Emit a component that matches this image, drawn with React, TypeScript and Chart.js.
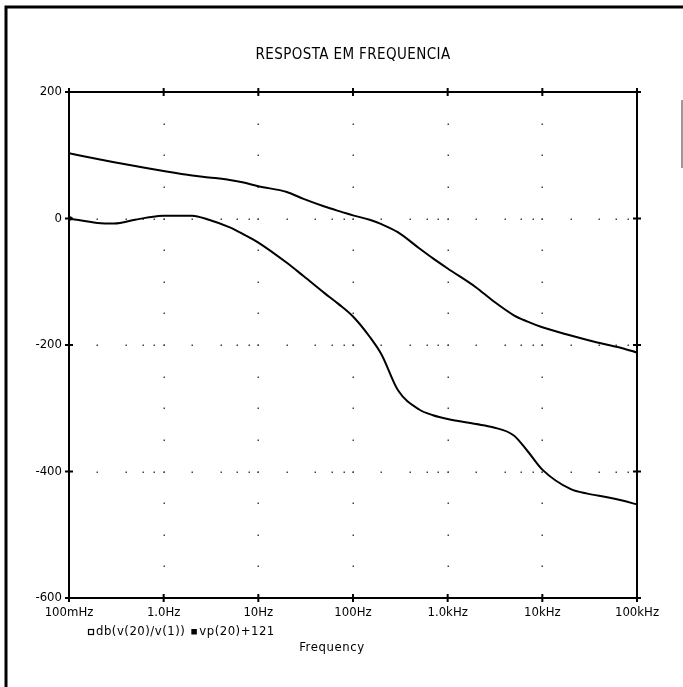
import React, { useEffect, useRef } from "react";
import { Chart, registerables } from "chart.js";

Chart.register(...registerables);

const frequencies = [0.1, 0.2, 0.3, 0.5, 0.7, 1, 2, 3, 5, 7, 10, 20, 30, 50, 70, 100, 150, 200, 300, 500, 700, 1000, 2000, 3000, 5000, 7000, 10000, 20000, 30000, 50000, 70000, 100000];
const gainDb = [0, -7, -8, -2, 2, 4.5, 4.5, -2, -14, -25, -38, -70, -91, -118, -135, -155, -187, -215, -272, -302, -311, -317, -325, -330, -343, -368, -397, -428, -435, -441, -446, -452];
const phasePlus121 = [103, 94, 89, 83, 79, 75, 68, 65, 61, 57, 51, 42, 31, 19, 12, 5, -2, -9, -22, -47, -63, -79, -109, -130, -153, -163, -172, -185, -192, -200, -205, -212];

const seriesLabels = ["db(v(20)/v(1))", "vp(20)+121"];
const xTickValues = [0.1, 1, 10, 100, 1000, 10000, 100000];
const xTickLabels = ["100mHz", "1.0Hz", "10Hz", "100Hz", "1.0kHz", "10kHz", "100kHz"];
const yTickValues = [-600, -400, -200, 0, 200];
const chartTitle = "RESPOSTA EM FREQUENCIA";
const xAxisTitle = "Frequency";

const FONT = '"DejaVu Sans Condensed", "Liberation Sans Narrow", "DejaVu Sans", sans-serif';

const plotterPlugin = {
  id: "plotter",
  beforeDatasetsDraw(chart: any) {
    const { ctx, chartArea: a } = chart;
    const xs = chart.scales.x;
    const ys = chart.scales.y;
    ctx.save();
    ctx.fillStyle = "#444";
    for (let d = 1; d < xTickValues.length - 1; d++) {
      const px = Math.round(xs.getPixelForValue(xTickValues[d]));
      for (let v = -550; v <= 150; v += 50) {
        const py = Math.round(ys.getPixelForValue(v));
        ctx.fillRect(px - 0.5, py - 0.5, 1.5, 1.5);
      }
    }
    for (const gv of [0, -200, -400]) {
      const py = Math.round(ys.getPixelForValue(gv));
      for (let d = 0; d < xTickValues.length - 1; d++) {
        for (const m of [2, 4, 6, 8, 10]) {
          const px = Math.round(xs.getPixelForValue(xTickValues[d] * m));
          if (px >= a.right - 1) continue;
          ctx.fillRect(px - 0.5, py - 0.5, 1.5, 1.5);
        }
      }
    }
    ctx.restore();
  },
  afterDraw(chart: any) {
    const { ctx, chartArea: a } = chart;
    const xs = chart.scales.x;
    const ys = chart.scales.y;
    ctx.save();
    ctx.strokeStyle = "#000";
    ctx.lineWidth = 2;
    ctx.strokeRect(a.left, a.top, a.right - a.left, a.bottom - a.top);
    ctx.beginPath();
    for (const v of xTickValues) {
      const px = xs.getPixelForValue(v);
      ctx.moveTo(px, a.top - 4);
      ctx.lineTo(px, a.top + 4);
      ctx.moveTo(px, a.bottom - 4);
      ctx.lineTo(px, a.bottom + 4);
    }
    for (const v of yTickValues) {
      const py = ys.getPixelForValue(v);
      ctx.moveTo(a.left - 4, py);
      ctx.lineTo(a.left + 4, py);
      ctx.moveTo(a.right - 4, py);
      ctx.lineTo(a.right + 4, py);
    }
    ctx.stroke();
    // start marker of the gain curve
    const p0 = chart.getDatasetMeta(0).data[0];
    if (p0) {
      ctx.fillStyle = "#000";
      ctx.beginPath();
      ctx.arc(p0.x + 1, p0.y, 2.2, 0, Math.PI * 2);
      ctx.fill();
    }

    ctx.fillStyle = "#000";
    ctx.textBaseline = "middle";
    ctx.font = `15px ${FONT}`;
    (ctx as any).letterSpacing = "0.4px";
    ctx.textAlign = "center";
    ctx.fillText(chartTitle, (a.left + a.right) / 2, 55);

    ctx.font = `13px ${FONT}`;
    ctx.textAlign = "left";
    (ctx as any).letterSpacing = "0.5px";
    let lx = 88;
    const ly = 632;
    ctx.lineWidth = 1.2;
    ctx.strokeRect(lx + 0.5, ly - 2.5, 5, 5);
    lx += 8;
    ctx.fillText(seriesLabels[0], lx, ly);
    lx += ctx.measureText(seriesLabels[0]).width + 6;
    ctx.fillRect(lx, ly - 3, 5.5, 5.5);
    lx += 8;
    ctx.fillText(seriesLabels[1], lx, ly);

    (ctx as any).letterSpacing = "0.6px";
    ctx.textAlign = "center";
    ctx.fillText(xAxisTitle, 332, 648);
    (ctx as any).letterSpacing = "0px";

    ctx.lineWidth = 3;
    ctx.beginPath();
    ctx.moveTo(6, 687);
    ctx.lineTo(6, 7);
    ctx.lineTo(683, 7);
    ctx.stroke();
    ctx.strokeStyle = "#999";
    ctx.lineWidth = 2;
    ctx.beginPath();
    ctx.moveTo(682, 100);
    ctx.lineTo(682, 168);
    ctx.stroke();
    ctx.restore();
  },
};

export default function App() {
  const ref = useRef<HTMLCanvasElement | null>(null);
  useEffect(() => {
    if (!ref.current) return;
    const chart = new Chart(ref.current, {
      type: "line",
      data: {
        datasets: [
          {
            label: seriesLabels[0],
            data: frequencies.map((f, i) => ({ x: f, y: gainDb[i] })),
            borderColor: "#000",
            borderWidth: 2,
            pointRadius: 0,
            fill: false,
            cubicInterpolationMode: "monotone",
          },
          {
            label: seriesLabels[1],
            data: frequencies.map((f, i) => ({ x: f, y: phasePlus121[i] })),
            borderColor: "#000",
            borderWidth: 2,
            pointRadius: 0,
            fill: false,
            cubicInterpolationMode: "monotone",
          },
        ],
      },
      options: {
        animation: false,
        responsive: false,
        layout: { padding: { left: 0, top: 92, right: 46, bottom: 0 } },
        plugins: {
          legend: { display: false },
          title: { display: false },
          tooltip: { enabled: false },
        },
        scales: {
          x: {
            type: "logarithmic",
            min: 0.1,
            max: 100000,
            afterBuildTicks: (s: any) => {
              s.ticks = xTickValues.map((v) => ({ value: v }));
            },
            afterFit: (s: any) => {
              s.height = 89;
            },
            ticks: {
              autoSkip: false,
              maxRotation: 0,
              padding: 7,
              color: "#000",
              font: { family: FONT, size: 13 },
              callback: (_v: any, i: number) => xTickLabels[i],
            },
            grid: { display: false, drawTicks: false },
            border: { display: false },
          },
          y: {
            type: "linear",
            min: -600,
            max: 200,
            afterBuildTicks: (s: any) => {
              s.ticks = yTickValues.map((v) => ({ value: v }));
            },
            afterFit: (s: any) => {
              s.width = 69;
            },
            ticks: {
              padding: 7,
              color: "#000",
              font: { family: FONT, size: 13 },
              callback: (v: any) => String(v),
            },
            grid: { display: false, drawTicks: false },
            border: { display: false },
          },
        },
      },
      plugins: [plotterPlugin],
    } as any);
    return () => chart.destroy();
  }, []);
  return (
    <div style={{ position: "absolute", left: 0, top: 0, width: 683, height: 687, background: "#fff" }}>
      <canvas ref={ref} width={683} height={687} style={{ display: "block" }} />
    </div>
  );
}
